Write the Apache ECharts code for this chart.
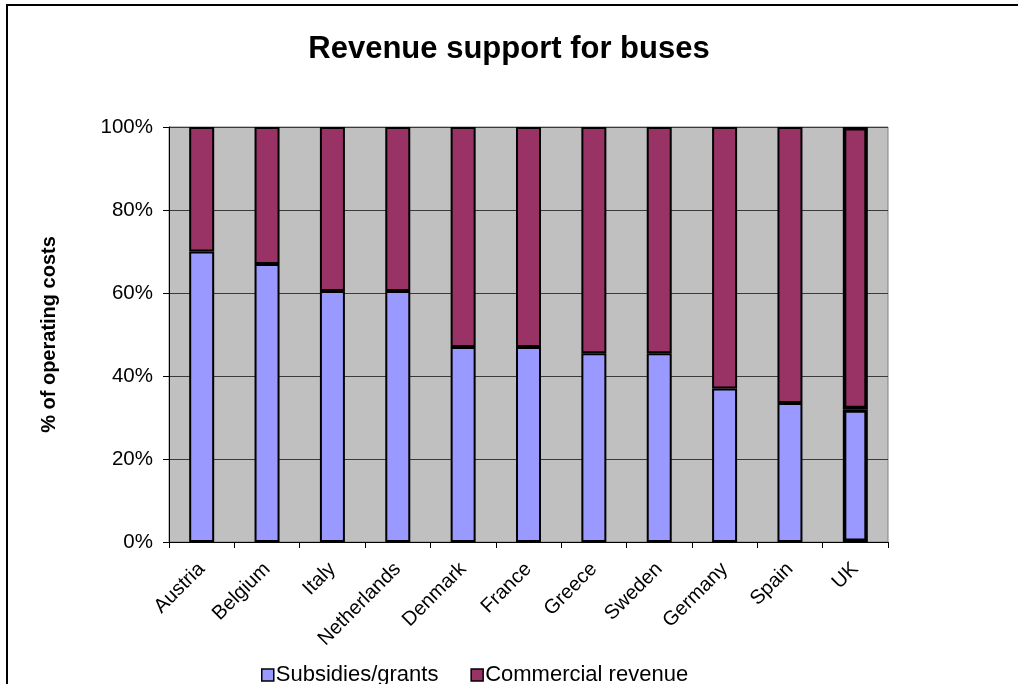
<!DOCTYPE html>
<html>
<head>
<meta charset="utf-8">
<script src="https://cdn.jsdelivr.net/npm/echarts@6/dist/echarts.min.js"></script>
<style>
  html, body { margin: 0; padding: 0; background: #ffffff; }
  #chart { width: 1018px; height: 684px; }
</style>
</head>
<body>
<div id="chart"></div>
<script>
// Share of bus operating costs covered by each revenue source (%)
const countries = ['Austria', 'Belgium', 'Italy', 'Netherlands', 'Denmark', 'France',
                   'Greece', 'Sweden', 'Germany', 'Spain', 'UK'];
const subsidies = [70, 67, 60.5, 60.5, 47, 47, 45.5, 45.5, 37, 33.5, 32];
const commercial = [30, 33, 39.5, 39.5, 53, 53, 54.5, 54.5, 63, 66.5, 68];
const yTicks = [0, 20, 40, 60, 80, 100];

const FONT = '"Liberation Sans", Arial, sans-serif';
const highlighted = 'UK';

function seriesData(values) {
  return values.map((v, i) => countries[i] === highlighted
    ? { value: v, itemStyle: { borderWidth: 3.5 } }
    : v);
}

const chart = echarts.init(document.getElementById('chart'), null, { renderer: 'canvas' });

chart.setOption({
  backgroundColor: '#ffffff',
  animation: false,
  title: {
    text: 'Revenue support for buses',
    left: 'center',
    top: 29,
    textStyle: { fontFamily: FONT, fontSize: 31, fontWeight: 'bold', color: '#000' }
  },
  graphic: [{
    type: 'rect',
    shape: { x: 7, y: 5, width: 2000, height: 2000 },
    style: { fill: 'none', stroke: '#000', lineWidth: 2 },
    silent: true
  }],
  legend: {
    left: 256,
    top: 659,
    itemWidth: 12,
    itemHeight: 12,
    itemGap: 32,
    icon: 'rect',
    textStyle: { fontFamily: FONT, fontSize: 22, color: '#000', padding: [0, 0, 0, -3] },
    data: [
      { name: 'Subsidies/grants', itemStyle: { borderColor: '#000', borderWidth: 1.5 } },
      { name: 'Commercial revenue', itemStyle: { borderColor: '#000', borderWidth: 1.5 } }
    ]
  },
  grid: {
    left: 169, right: 130, top: 127, bottom: 142,
    show: true,
    backgroundColor: '#C0C0C0',
    borderColor: '#808080',
    borderWidth: 1
  },
  xAxis: {
    type: 'category',
    data: countries,
    axisLine: { lineStyle: { color: '#000', width: 1 } },
    axisTick: { show: true, length: 6, lineStyle: { color: '#000' } },
    axisLabel: {
      rotate: 45,
      margin: 24,
      interval: 0,
      fontFamily: FONT,
      fontSize: 20,
      color: '#000'
    }
  },
  yAxis: {
    type: 'value',
    min: yTicks[0],
    max: yTicks[yTicks.length - 1],
    interval: yTicks[1] - yTicks[0],
    name: '% of operating costs',
    nameLocation: 'middle',
    nameRotate: 90,
    nameGap: 110,
    nameTextStyle: { fontFamily: FONT, fontSize: 20, fontWeight: 'bold', color: '#000' },
    axisLine: { show: true, lineStyle: { color: '#000', width: 1 } },
    axisTick: { show: true, length: 6, lineStyle: { color: '#000' } },
    axisLabel: {
      margin: 16,
      fontFamily: FONT,
      fontSize: 20.5,
      color: '#000',
      formatter: v => v + '%'
    },
    splitLine: { show: true, lineStyle: { color: '#3a3a3a', width: 1 } }
  },
  series: [
    {
      name: 'Subsidies/grants',
      type: 'bar',
      stack: 'total',
      barWidth: 25,
      data: seriesData(subsidies),
      itemStyle: { color: '#9999FF', borderColor: '#000', borderWidth: 2 }
    },
    {
      name: 'Commercial revenue',
      type: 'bar',
      stack: 'total',
      barWidth: 25,
      data: seriesData(commercial),
      itemStyle: { color: '#993366', borderColor: '#000', borderWidth: 2 }
    }
  ]
});
</script>
</body>
</html>
